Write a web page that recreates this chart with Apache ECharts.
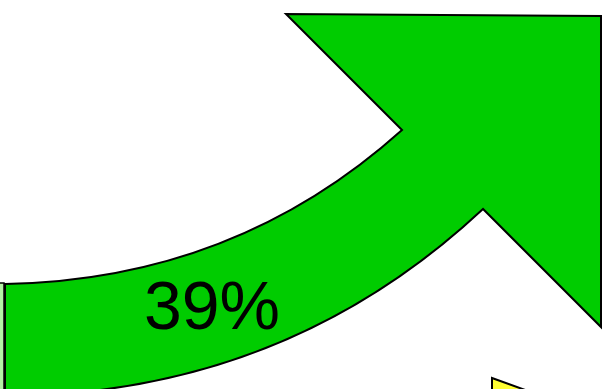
<!DOCTYPE html>
<html>
<head>
<meta charset="utf-8">
<script src="https://cdn.jsdelivr.net/npm/echarts@6/dist/echarts.min.js"></script>
<style>
html,body{margin:0;padding:0;background:#fff;}
#chart{width:603px;height:389px;}
</style>
</head>
<body>
<div id="chart"></div>
<script>
// Value shown on the arrow (percent)
const shareValue = [39];
const labelPoint = [[212, 310]];

// Green arrow outline (data units: x 0..603, y 0..389 downward)
// top curve: start, control, end
const topCurve = [[5, 284], [235, 280], [402, 130]];
// arrow head vertices after the top curve
const headPoints = [[286, 14], [601, 16], [601, 327], [483, 209]];
// bottom curve: control, end
const bottomCurve = [[284, 395], [5, 396]];

// Pale green shape behind (left edge)
const paleShape = [[-10, 283], [4, 283], [4, 400], [-10, 400]];
// Yellow shape at bottom right
const yellowShape = [[492, 378], [650, 435], [650, 460], [492, 460]];

const chart = echarts.init(document.getElementById('chart'), null, {renderer: 'canvas'});

function pathFromArrow(api) {
  const c = p => api.coord(p);
  let d = '';
  const s = c(topCurve[0]), q1 = c(topCurve[1]), e1 = c(topCurve[2]);
  d += 'M' + s[0] + ' ' + s[1] + ' Q' + q1[0] + ' ' + q1[1] + ' ' + e1[0] + ' ' + e1[1];
  headPoints.forEach(p => { const k = c(p); d += ' L' + k[0] + ' ' + k[1]; });
  const q2 = c(bottomCurve[0]), e2 = c(bottomCurve[1]);
  d += ' Q' + q2[0] + ' ' + q2[1] + ' ' + e2[0] + ' ' + e2[1] + ' Z';
  return d;
}

const option = {
  animation: false,
  backgroundColor: '#ffffff',
  grid: {left: 0, right: 0, top: 0, bottom: 0},
  xAxis: {type: 'value', min: 0, max: 603, show: false},
  yAxis: {type: 'value', min: 0, max: 389, inverse: true, show: false},
  series: [
    {
      type: 'custom',
      clip: false,
      data: [0],
      renderItem: function (params, api) {
        return {
          type: 'polygon',
          shape: {points: paleShape.map(p => api.coord(p))},
          style: {fill: '#b4f0a4', stroke: '#000', lineWidth: 1.5}
        };
      }
    },
    {
      type: 'custom',
      clip: false,
      data: [0],
      renderItem: function (params, api) {
        return {
          type: 'polygon',
          shape: {points: yellowShape.map(p => api.coord(p))},
          style: {fill: '#ffff33', stroke: '#000', lineWidth: 2}
        };
      }
    },
    {
      type: 'custom',
      clip: false,
      data: [0],
      renderItem: function (params, api) {
        return {
          type: 'path',
          shape: {pathData: pathFromArrow(api)},
          style: {fill: '#00cc00', stroke: '#000', lineWidth: 2, lineJoin: 'miter'}
        };
      }
    },
    {
      type: 'custom',
      clip: false,
      data: shareValue.map((v, i) => [labelPoint[i][0], labelPoint[i][1], v]),
      renderItem: function (params, api) {
        const p = api.coord([api.value(0), api.value(1)]);
        return {
          type: 'text',
          x: p[0], y: p[1],
          style: {
            text: api.value(2) + '%',
            fill: '#000',
            font: '68px "Liberation Sans", Arial, sans-serif',
            align: 'center',
            verticalAlign: 'middle'
          }
        };
      }
    }
  ]
};
chart.setOption(option);
</script>
</body>
</html>
